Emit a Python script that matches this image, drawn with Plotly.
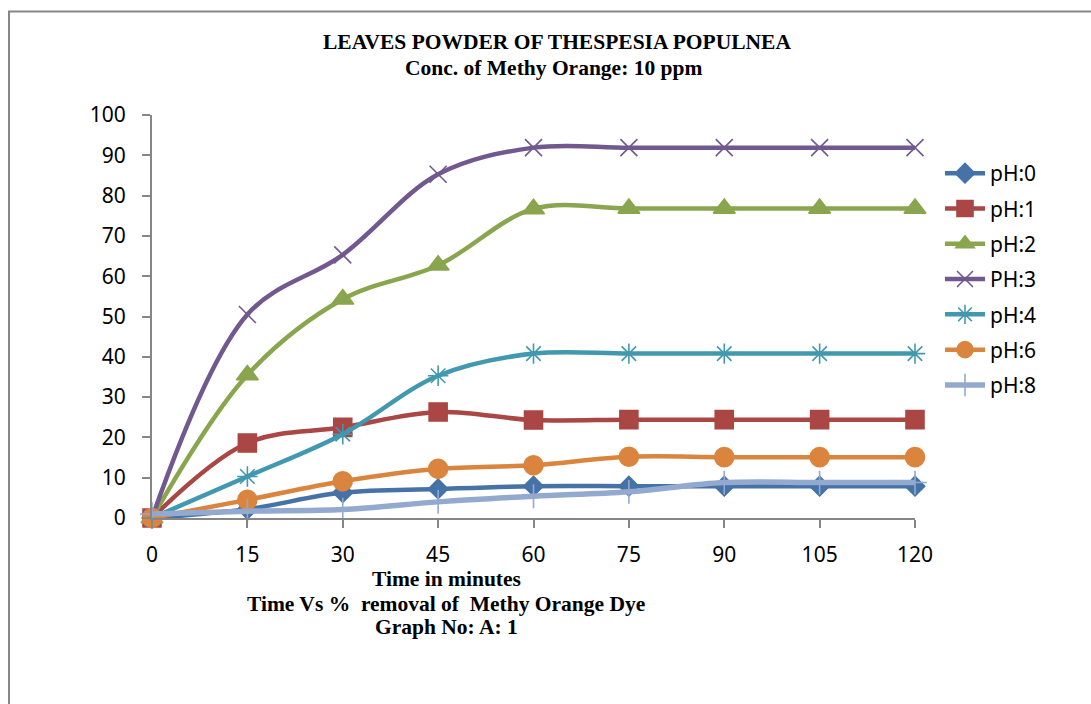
import plotly.graph_objects as go

# ---------------- data ----------------
times = ["0", "15", "30", "45", "60", "75", "90", "105", "120"]
series_names = ["pH:0", "pH:1", "pH:2", "PH:3", "pH:4", "pH:6", "pH:8"]
ph0 = [0, 2.2, 6.3, 7.2, 7.9, 7.9, 7.9, 7.9, 7.9]
ph1 = [0, 18.6, 22.5, 26.3, 24.3, 24.4, 24.4, 24.4, 24.4]
ph2 = [0, 35.5, 54.3, 62.7, 76.7, 76.8, 76.8, 76.8, 76.8]
ph3 = [0, 50.5, 65.3, 85.3, 91.9, 91.9, 91.9, 91.9, 91.9]
ph4 = [0, 10.3, 20.8, 35.3, 40.8, 40.8, 40.8, 40.8, 40.8]
ph6 = [0, 4.5, 9.1, 12.2, 13.1, 15.2, 15.1, 15.1, 15.1]
ph8 = [1, 1.7, 2.1, 4.0, 5.4, 6.5, 8.8, 8.8, 8.8]
values = [ph0, ph1, ph2, ph3, ph4, ph6, ph8]
y_ticks = [0, 10, 20, 30, 40, 50, 60, 70, 80, 90, 100]

title1 = "LEAVES POWDER OF THESPESIA POPULNEA"
title2 = "Conc. of Methy Orange: 10 ppm"
xlabel = "Time in minutes"
caption1 = "Time Vs %\u00a0 removal of\u00a0 Methy Orange Dye"
caption2 = "Graph No: A: 1"

# ---------------- styles ----------------
colors = ["#4572A7", "#AA4643", "#89A54E", "#71588F", "#4198AF", "#DB843D", "#93A9CF"]
symbols = ["diamond", "square", "triangle-up", "x-thin-open", "asterisk-open", "circle", "cross-thin-open"]
msizes = [15, 18, 19, 17, 17, 19, 17]
lwidths = [4.5, 4.5, 4.5, 4.5, 4.5, 4.5, 5.5]

W, H = 1091, 704
ML, MR, MT, MB = 152, 176, 115, 186
PW, PH = W - ML - MR, H - MT - MB


def px(x):
    return (x - ML) / PW


def py(y):
    return (H - MB - y) / PH


fig = go.Figure()
for i, (name, vals) in enumerate(zip(series_names, values)):
    fig.add_trace(go.Scatter(
        x=times, y=vals, name=name, mode="lines+markers",
        line=dict(color=colors[i], width=lwidths[i], shape="spline", smoothing=1.0),
        marker=dict(symbol=symbols[i], size=msizes[i], color=colors[i],
                    line=dict(color=colors[i], width=1.6)),
        cliponaxis=False, legendgroup=name,
    ))

serif = "Liberation Serif, Times New Roman, serif"
ann = [
    (title1, 557, 42), (title2, 553, 68),
    (xlabel, 446, 579), (caption1, 446, 604), (caption2, 446, 627),
]
annotations = [dict(text=t, x=px(x), y=py(y), xref="paper", yref="paper",
                    xanchor="center", yanchor="middle", showarrow=False,
                    font=dict(family=serif, size=21.5, color="black", weight="bold"))
               for t, x, y in ann]

fig.update_layout(
    width=W, height=H,
    margin=dict(l=ML, r=MR, t=MT, b=MB),
    paper_bgcolor="white", plot_bgcolor="white",
    font=dict(family="Noto Sans", size=21, color="black"),
    showlegend=True,
    legend=dict(x=px(940), y=py(153), xanchor="left", yanchor="top",
                font=dict(family="Noto Sans", size=21, color="black"),
                tracegroupgap=5, traceorder="grouped", itemwidth=40,
                bgcolor="rgba(0,0,0,0)"),
    annotations=annotations,
    shapes=[dict(type="rect", xref="paper", yref="paper",
                 x0=px(9), x1=px(1110), y0=py(11.5), y1=py(730),
                 line=dict(color="#878787", width=2), fillcolor="rgba(0,0,0,0)", layer="below")],
)
fig.update_xaxes(type="category", range=[0, 8], showline=True, linecolor="#868686", linewidth=2,
                 ticks="outside", ticklen=8, tickcolor="#868686", tickwidth=2,
                 showgrid=False, zeroline=False, ticklabelstandoff=9,
                 tickfont=dict(family="Noto Sans", size=21, color="black"))
fig.update_yaxes(range=[0, 100], tickvals=y_ticks, showline=True, linecolor="#868686", linewidth=2,
                 ticks="outside", ticklen=8, tickcolor="#868686", tickwidth=2,
                 showgrid=False, zeroline=False, ticklabelstandoff=12,
                 tickfont=dict(family="Noto Sans", size=21, color="black"))

fig.write_html("out.html")
